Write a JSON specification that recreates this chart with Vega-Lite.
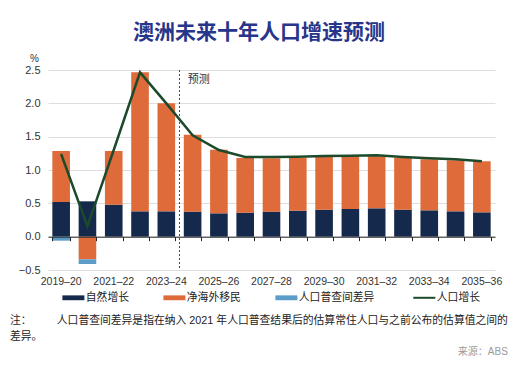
{
  "$schema": "https://vega.github.io/schema/vega-lite/v6.json",
  "background": "white",
  "padding": {"left": 10, "top": 22, "right": 6, "bottom": 6},
  "config": {
    "font": "Liberation Sans, Noto Sans CJK SC",
    "view": {"stroke": null},
    "axisY": {"labelOverlap": false},
    "legend": {
      "orient": "none",
      "legendX": 20,
      "legendY": 222,
      "direction": "horizontal",
      "title": null,
      "symbolType": "M-1,-0.22H1V0.22H-1Z",
      "symbolSize": 484,
      "labelFontSize": 10.8,
      "labelColor": "#222222",
      "columnPadding": 34,
      "labelOffset": 7,
      "symbolStrokeWidth": 0
    }
  },
  "title": {
    "text": "澳洲未来十年人口增速预测",
    "fontSize": 21,
    "fontWeight": "bold",
    "color": "#27358a",
    "anchor": "middle",
    "frame": "bounds",
    "offset": 10
  },
  "vconcat": [
    {
      "title": {
        "text": "来源：ABS",
        "orient": "bottom",
        "anchor": "end",
        "frame": "bounds",
        "fontSize": 10,
        "fontWeight": "normal",
        "color": "#9a9a9a",
        "offset": 6,
        "dx": 0
      },
      "vconcat": [
        {
          "width": 447,
          "height": 200,
          "title": {
            "text": [
              "注：\u3000\u3000\u00a0\u00a0\u00a0人口普查间差异是指在纳入 2021 年人口普查结果后的估算常住人口与之前公布的估算值之间的",
              "\u3000\u3000\u3000\u3000\u00a0\u00a0\u00a0差异。"
            ],
            "orient": "bottom",
            "anchor": "start",
            "frame": "group",
            "fontSize": 10.8,
            "fontWeight": "normal",
            "color": "#222222",
            "dx": -38,
            "lineHeight": 16,
            "offset": 28
          },
          "data": {
            "values": [
              {"年份": "2019–20", "自然增长": 0.52, "净海外移民": 0.765, "人口普查间差异": -0.06, "人口增长": 1.24},
              {"年份": "2020–21", "自然增长": 0.53, "净海外移民": -0.34, "人口普查间差异": -0.07, "人口增长": 0.155},
              {"年份": "2021–22", "自然增长": 0.48, "净海外移民": 0.805, "人口普查间差异": 0, "人口增长": 1.3},
              {"年份": "2022–23", "自然增长": 0.38, "净海外移民": 2.085, "人口普查间差异": 0, "人口增长": 2.465},
              {"年份": "2023–24", "自然增长": 0.38, "净海外移民": 1.62, "人口普查间差异": 0, "人口增长": 2.0},
              {"年份": "2024–25", "自然增长": 0.375, "净海外移民": 1.155, "人口普查间差异": 0, "人口增长": 1.52},
              {"年份": "2025–26", "自然增长": 0.35, "净海外移民": 0.955, "人口普查间差异": 0, "人口增长": 1.3},
              {"年份": "2026–27", "自然增长": 0.36, "净海外移民": 0.82, "人口普查间差异": 0, "人口增长": 1.195},
              {"年份": "2027–28", "自然增长": 0.375, "净海外移民": 0.8, "人口普查间差异": 0, "人口增长": 1.195},
              {"年份": "2028–29", "自然增长": 0.39, "净海外移民": 0.79, "人口普查间差异": 0, "人口增长": 1.2},
              {"年份": "2029–30", "自然增长": 0.405, "净海外移民": 0.79, "人口普查间差异": 0, "人口增长": 1.21},
              {"年份": "2030–31", "自然增长": 0.415, "净海外移民": 0.79, "人口普查间差异": 0, "人口增长": 1.215},
              {"年份": "2031–32", "自然增长": 0.425, "净海外移民": 0.78, "人口普查间差异": 0, "人口增长": 1.22},
              {"年份": "2032–33", "自然增长": 0.405, "净海外移民": 0.775, "人口普查间差异": 0, "人口增长": 1.195},
              {"年份": "2033–34", "自然增长": 0.395, "净海外移民": 0.765, "人口普查间差异": 0, "人口增长": 1.175},
              {"年份": "2034–35", "自然增长": 0.38, "净海外移民": 0.765, "人口普查间差异": 0, "人口增长": 1.16},
              {"年份": "2035–36", "自然增长": 0.365, "净海外移民": 0.765, "人口普查间差异": 0, "人口增长": 1.13}
            ]
          },
          "resolve": {"axis": {"x": "independent"}},
          "layer": [
            {
              "transform": [
                {"fold": ["自然增长", "净海外移民", "人口普查间差异"], "as": ["series", "value"]}
              ],
              "mark": {"type": "bar"},
              "encoding": {
                "x": {
                  "field": "年份",
                  "type": "nominal",
                  "sort": null,
                  "scale": {"paddingInner": 0.33, "paddingOuter": 0.165},
                  "axis": {
                    "orient": "bottom",
                    "domain": false,
                    "ticks": false,
                    "grid": false,
                    "labelAngle": 0,
                    "labelPadding": 6,
                    "labelFontSize": 10.5,
                    "labelColor": "#333333",
                    "title": null,
                    "labelExpr": "toNumber(slice(datum.value,0,4)) % 2 == 1 ? datum.value : ''"
                  }
                },
                "y": {
                  "field": "value",
                  "type": "quantitative",
                  "stack": "zero",
                  "scale": {"domain": [-0.5, 2.5], "nice": false},
                  "axis": {
                    "values": [-0.5, 0, 0.5, 1, 1.5, 2, 2.5],
                    "format": ".1f",
                    "labelOverlap": false,
                    "grid": true,
                    "gridColor": "#dedede",
                    "domain": false,
                    "ticks": false,
                    "labelPadding": 8,
                    "labelFontSize": 11,
                    "labelColor": "#333333",
                    "title": "%",
                    "titleAngle": 0,
                    "titleX": -14,
                    "titleY": -12,
                    "titleAlign": "center",
                    "titleBaseline": "middle",
                    "titleFontSize": 10,
                    "titleFontWeight": "normal",
                    "titleColor": "#333333"
                  }
                },
                "color": {
                  "field": "series",
                  "type": "nominal",
                  "scale": {
                    "domain": ["自然增长", "净海外移民", "人口普查间差异", "人口增长"],
                    "range": ["#14294b", "#df6b3b", "#5b9cc9", "#1d4a2a"]
                  },
                  "legend": {
                    "encode": {
                      "symbols": {
                        "update": {
                          "shape": {"signal": "datum.value === '人口增长' ? 'M-0.1,0H1.9' : 'M-1,-0.22H1V0.22H-1Z'"},
                          "fill": {"signal": "datum.value === '人口增长' ? 'transparent' : scale('color', datum.value)"},
                          "stroke": {"signal": "scale('color', datum.value)"},
                          "strokeWidth": {"signal": "datum.value === '人口增长' ? 2 : 0"},
                          "opacity": {"value": 1}
                        }
                      },
                      "labels": {
                        "update": {
                          "dx": {"signal": "datum.value === '人口增长' ? 10 : 0"}
                        }
                      }
                    }
                  }
                },
                "order": {"field": "series", "sort": "descending"}
              }
            },
            {
              "mark": {"type": "line", "strokeWidth": 2.5},
              "encoding": {
                "x": {
                  "field": "年份",
                  "type": "nominal",
                  "sort": null,
                  "axis": {
                    "orient": "bottom",
                    "offset": -33.33,
                    "labels": false,
                    "ticks": true,
                    "tickBand": "extent",
                    "tickSize": 4,
                    "tickColor": "#222222",
                    "domain": true,
                    "domainColor": "#222222",
                    "domainWidth": 1,
                    "grid": false,
                    "title": null,
                    "zindex": 1
                  }
                },
                "y": {
                  "field": "人口增长",
                  "type": "quantitative",
                  "axis": {"values": [-0.5, 0, 0.5, 1, 1.5, 2, 2.5], "labelOverlap": false}
                },
                "color": {"datum": "人口增长"}
              }
            },
            {
              "transform": [{"filter": "datum['年份'] === '2024–25'"}],
              "mark": {"type": "rule", "color": "#444444", "strokeDash": [2, 2], "strokeWidth": 1},
              "encoding": {
                "x": {"field": "年份", "type": "nominal", "sort": null, "bandPosition": -0.246, "axis": null}
              }
            },
            {
              "transform": [{"filter": "datum['年份'] === '2024–25'"}],
              "mark": {"type": "text", "text": "预测", "align": "left", "baseline": "middle", "dx": 4, "fontSize": 11, "color": "#333333"},
              "encoding": {
                "x": {"field": "年份", "type": "nominal", "sort": null, "bandPosition": 0, "axis": null},
                "y": {"datum": 2.35, "type": "quantitative", "axis": {"values": [-0.5, 0, 0.5, 1, 1.5, 2, 2.5], "labelOverlap": false}}
              }
            }
          ]
        }
      ]
    }
  ]
}
